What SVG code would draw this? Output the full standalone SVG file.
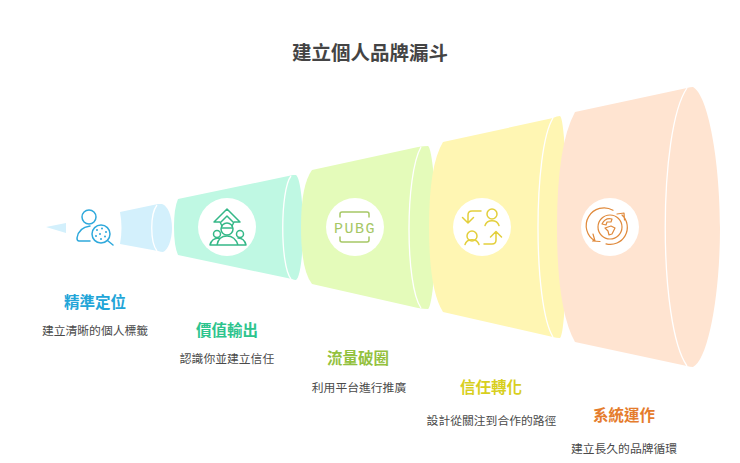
<svg xmlns="http://www.w3.org/2000/svg" width="740" height="463" viewBox="0 0 740 463">
<style>
text{font-family:"Noto Sans CJK TC","Noto Sans",sans-serif;text-anchor:middle}
.t{font-size:19.500px;font-weight:700;fill:#444}
.h{font-size:15.500px;font-weight:700}
.d{font-size:11.800px;fill:#4a4a4a}
.w{fill:none;stroke:#fff;stroke-width:1.300}
.c{fill:#fff}
.i{fill:none;stroke-width:1.500;stroke-linecap:round;stroke-linejoin:round}
</style>
<rect width="740" height="463" fill="#fff"/>
<text class="t" x="370" y="60">建立個人品牌漏斗</text>
<g id="node-1">
<path d="M46 227 L66 223 V233 Z" fill="#d3f0fc"/>
<path d="M120 212 L158 204 Q160 204 162 204 C168 206 172 216 172 228 C172 240 168 250 163 252 Q161 252 158 251 L120 244 Q123 228 120 212 Z" fill="#d3f0fc"/>
<path class="w" d="M157 205 C150 214 150 242 157 251"/>
<g class="i" stroke="#2fa9dc">
<circle cx="89" cy="217" r="7"/>
<path d="M90 241 H79 Q77 241 77 238 C78 231 83 227 90 226"/>
<circle cx="101" cy="234" r="9"/>
<path d="M107.500 240.500 L113 245"/>
</g>
<g fill="#2fa9dc"><circle cx="97" cy="230" r="1"/><circle cx="102" cy="228.500" r="1"/><circle cx="106" cy="232" r="1"/><circle cx="100" cy="234" r="1"/><circle cx="105" cy="236.500" r="1"/><circle cx="96" cy="236" r="1"/><circle cx="101" cy="239" r="1"/></g>
<text class="h" x="95" y="308" fill="#22a5d8">精準定位</text>
<text class="d" x="95" y="335">建立清晰的個人標籤</text>
</g>
<g id="node-2">
<path d="M174 227 Q174 208 178 199 L293 175 Q295 175 296 175 C300 178 303 200 303 228 C303 256 300 278 296 280 Q294 280 292 279 L178 255 Q174 246 174 227 Z" fill="#bff8e3"/>
<path class="w" d="M291 176 C280 190 280 266 291 279"/>
<circle class="c" cx="227" cy="227" r="29"/>
<g class="i" stroke="#35b888">
<path d="M222 226 L220 222 H214 L227 209 L240 222 H234 L232 226"/>
<path d="M221 222 L227 216 L233 222"/>
<circle cx="227" cy="229" r="6"/><path d="M221.500 228 H232.500"/>
<circle cx="217" cy="234" r="3.500"/><circle cx="240" cy="234" r="3.500"/>
<path d="M210 245 H246 C245 241 243 238 238 238 M210 245 C211 241 214 238 219 238 M217 245 C218 239 222 236 227 236 C232 236 236 239 238 245"/>
</g>
<text class="h" x="227" y="336" fill="#2dc48d">價值輸出</text>
<text class="d" x="227" y="363">認識你並建立信任</text>
</g>
<g id="node-3">
<path d="M301 227 Q301 185 312 170 L418 147 Q424 146 428 146 C432 148 436 190 436 228 C436 266 432 307 428 309 Q424 309 418 308 L312 284 Q301 270 301 227 Z" fill="#e4fbba"/>
<path class="w" d="M421 147 C405 175 405 285 421 308"/>
<circle class="c" cx="355" cy="227" r="29"/>
<path class="i" stroke="#a6c765" d="M340 217 V214 Q340 212 342 212 H367 Q369 212 369 214 V217 M340 237 V240 Q340 242 342 242 H367 Q369 242 369 240 V237"/>
<text x="355" y="232.500" font-size="15" letter-spacing="1.500" fill="#a6c765" style="font-family:'Liberation Mono',monospace">PUBG</text>
<text class="h" x="358" y="364" fill="#93c13e">流量破圈</text>
<text class="d" x="359" y="392">利用平台進行推廣</text>
</g>
<g id="node-4">
<path d="M429 227 Q429 165 443 142 L553 118 Q557 116 560 116 C564 118 567 170 567 228 C567 286 564 336 560 338 Q556 338 553 337 L443 312 Q429 290 429 227 Z" fill="#fff6b3"/>
<path class="w" d="M553 118 C533 150 533 305 553 337"/>
<circle class="c" cx="482" cy="227" r="29"/>
<g class="i" stroke="#e3cf3c">
<path d="M481 211 H472 Q468 211 468 215 V223 M462.500 217.500 L468 223 L473.500 217.500"/>
<circle cx="492" cy="214" r="5"/><path d="M485 225.500 C487 219 497 219 499 225.500"/>
<circle cx="472" cy="236" r="5"/><path d="M465 244.500 C467 238 477 238 479 244.500"/>
<path d="M484 244 H492 Q496 244 496 240 V232 M490.500 237 L496 231.500 L501.500 237"/>
</g>
<text class="h" x="491" y="393" fill="#d8cf1e">信任轉化</text>
<text class="d" x="491.500" y="425">設計從關注到合作的路徑</text>
</g>
<g id="node-5">
<path d="M557 227 Q557 145 575 112 L687 88 Q690 87 693 87 C708 95 720 160 720 228 C720 296 708 360 693 367 Q690 367 687 366 L575 342 Q557 310 557 227 Z" fill="#ffe4d1"/>
<path class="w" d="M687 88 C658 130 658 325 687 366"/>
<circle class="c" cx="610" cy="227" r="29"/>
<g class="i" stroke="#e08a3c" style="stroke-width:1.200">
<path d="M613 210.300 A17 17 0 0 0 595 241 M592.500 241 L600 241.500 M595 241 L593 234"/>
<path d="M606 243.800 A17 17 0 0 0 622 215 M617 214 L624 213 L624.500 220"/>
<circle cx="610" cy="227" r="12"/>
<path d="M602 224 C604 220 608 218 612 219 L611 222 L607 222 L606 225 Z M605 228 L611 226 L615 228 L612 234 L609 235 L608 231 Z"/>
</g>
<text class="h" x="624" y="421" fill="#e57c2c">系統運作</text>
<text class="d" x="624" y="453">建立長久的品牌循環</text>
</g>
<g id="connectors"></g>
</svg>
